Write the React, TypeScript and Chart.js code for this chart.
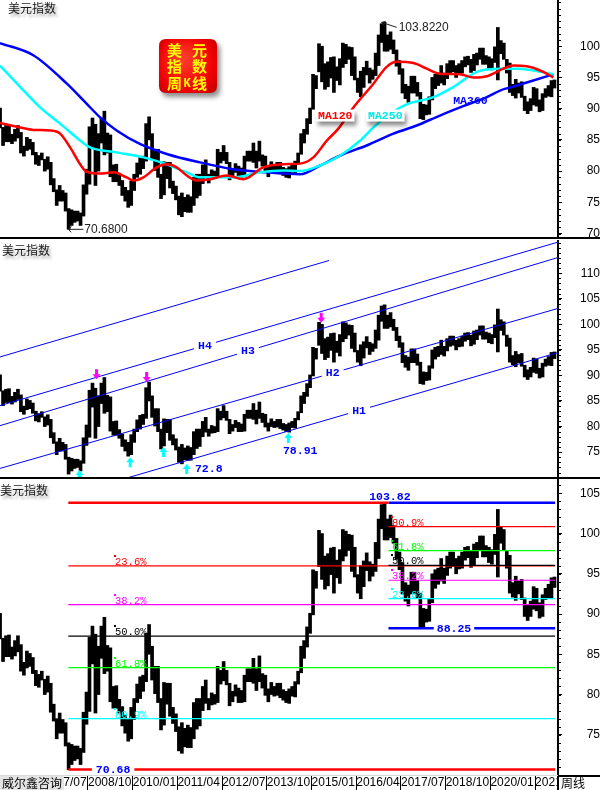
import React, { useEffect, useRef } from 'react';
import { Chart, registerables } from 'chart.js';

Chart.register(...registerables);

// ---------------- data ----------------
const START_YEAR = 2006;
const START_MONTH = 4; // first monthly bar: April 2006

// monthly high / low of the US dollar index (read from the weekly K-line)
const monthlyHigh: number[] = [
  90.1, 87.0, 87.3, 87.4, 85.9, 86.7, 87.3, 86.2, 84.0,
  85.4, 85.1, 84.6, 83.0, 82.5, 82.9, 81.9, 82.3, 81.4, 78.8, 77.0, 77.7,
  76.9, 76.5, 74.0, 73.8, 73.6, 73.6, 73.3, 77.8, 80.3, 87.1, 88.5, 87.5,
  86.0, 88.5, 89.6, 86.1, 85.8, 81.0, 81.1, 79.4, 78.5, 77.4, 76.9, 78.4,
  79.5, 81.3, 82.2, 82.4, 87.6, 88.7, 86.0, 83.5, 83.5, 79.5, 81.5, 81.4,
  81.4, 78.4, 77.6, 76.0, 76.5, 75.8, 76.2, 75.9, 79.0, 79.5, 79.5, 81.0,
  81.8, 79.5, 80.2, 80.0, 83.5, 83.0, 84.1, 83.0, 81.4, 80.4, 81.2, 80.8,
  80.5, 82.4, 83.2, 83.2, 84.5, 83.2, 84.8, 82.6, 82.4, 80.7, 81.5, 81.0,
  81.4, 81.4, 80.6, 80.4, 80.7, 81.0, 81.6, 82.9, 86.0, 86.7, 88.4, 90.1,
  95.5, 95.3, 100.4, 100.0, 97.2, 97.5, 98.2, 98.3, 96.7, 98.0, 100.5, 100.3,
  99.9, 99.8, 98.3, 94.9, 96.0, 96.6, 97.6, 96.5, 96.2, 98.9, 101.8, 103.6,
  103.82, 101.8, 102.3, 101.0, 99.4, 97.7, 96.4, 93.9, 93.6, 95.2, 95.2, 94.2,
  92.6, 90.7, 90.6, 91.9, 95.0, 95.5, 95.7, 96.9, 95.7, 97.2, 97.7, 97.7,
  96.9, 97.2, 97.7, 98.3, 98.4, 97.9, 98.7, 98.9, 99.7, 99.7, 98.5, 98.3,
  98.0, 99.9, 103.0, 100.9, 100.5, 97.9, 97.3, 93.9, 94.7, 94.1, 94.3, 92.0,
  91.1, 91.6, 93.4, 93.2, 91.4, 92.4, 93.2, 93.7, 94.5, 94.6,
];
const monthlyLow: number[] = [
  86.9, 84.1, 84.7, 84.7, 84.4, 84.8, 85.3, 82.9, 82.4,
  83.3, 83.5, 82.6, 81.1, 80.9, 81.8, 80.0, 80.3, 77.8, 76.7, 74.5, 75.2,
  75.2, 73.6, 70.68, 71.3, 71.8, 72.0, 71.3, 72.8, 76.3, 77.9, 83.8, 77.7,
  80.0, 84.5, 82.6, 82.9, 79.1, 78.3, 78.3, 77.7, 76.1, 75.2, 74.2, 74.5,
  76.9, 79.0, 79.5, 80.4, 81.6, 85.0, 81.8, 80.1, 79.0, 75.6, 76.2, 78.8,
  77.3, 76.4, 75.4, 73.0, 72.7, 73.5, 73.4, 73.4, 74.5, 75.7, 76.1, 78.0,
  78.9, 78.1, 78.7, 78.8, 79.0, 81.3, 81.7, 81.2, 78.6, 79.1, 79.8, 79.0,
  79.0, 79.1, 81.6, 81.6, 81.4, 80.5, 81.6, 80.8, 79.9, 79.1, 80.0, 79.8,
  79.9, 79.6, 79.3, 79.0, 78.9, 79.8, 79.7, 81.3, 82.7, 84.5, 85.9, 87.6,
  89.9, 93.2, 95.9, 94.3, 93.1, 93.5, 94.9, 92.6, 94.5, 93.8, 96.6, 97.2,
  97.9, 95.3, 94.6, 92.6, 91.9, 93.4, 95.4, 94.1, 94.7, 95.3, 96.9, 100.6,
  99.2, 99.2, 99.5, 98.8, 96.8, 95.5, 92.5, 91.6, 91.0, 92.5, 92.5, 92.0,
  88.4, 88.25, 89.0, 89.1, 91.4, 93.2, 93.7, 94.1, 93.8, 94.8, 95.7, 95.9,
  95.0, 95.6, 95.7, 96.7, 97.0, 95.8, 96.1, 97.0, 97.9, 97.1, 97.1, 96.4,
  96.2, 97.4, 94.6, 98.8, 97.9, 95.7, 92.6, 92.1, 91.7, 92.5, 91.8, 89.7,
  89.2, 89.7, 90.6, 90.4, 89.5, 89.7, 91.8, 92.0, 91.9, 93.3,
];

// moving averages
const ma120Years = [2006.29, 2006.76, 2007.22, 2007.69, 2007.97, 2008.25, 2008.53, 2008.71, 2009.09, 2009.46, 2009.83, 2010.02, 2010.30, 2010.67, 2010.95, 2011.23, 2011.51, 2011.79, 2012.16, 2012.63, 2013.09, 2013.65, 2014.21, 2014.68, 2015.05, 2015.43, 2015.75, 2016.17, 2016.73, 2017.10, 2017.38, 2017.85, 2018.22, 2018.59, 2019.15, 2019.53, 2019.90, 2020.36, 2020.64, 2021.02, 2021.48, 2021.76];
const ma120Values = [87.7, 87.1, 86.6, 86.5, 86.0, 83.8, 81.1, 79.9, 79.6, 79.8, 79.0, 78.5, 79.0, 80.6, 81.1, 80.6, 79.3, 78.5, 78.7, 79.3, 78.7, 80.6, 81.1, 81.2, 82.2, 84.9, 86.8, 90.2, 94.0, 96.7, 97.5, 97.3, 96.4, 95.6, 95.5, 95.0, 95.2, 96.4, 96.9, 96.8, 95.9, 95.0];
const ma250Years = [2006.29, 2006.85, 2007.41, 2007.97, 2008.53, 2008.81, 2009.55, 2010.30, 2010.95, 2011.51, 2011.88, 2012.81, 2013.56, 2014.21, 2014.68, 2015.24, 2015.80, 2016.36, 2016.73, 2017.20, 2017.66, 2018.41, 2018.97, 2019.62, 2020.27, 2020.74, 2021.20, 2021.76];
const ma250Values = [96.9, 93.5, 90.2, 87.6, 84.9, 83.8, 83.0, 82.2, 81.1, 79.8, 79.0, 79.0, 79.8, 80.1, 80.0, 80.9, 82.5, 84.9, 87.0, 89.2, 90.7, 91.85, 93.5, 95.9, 96.4, 96.4, 96.1, 95.5];
const ma360Years = [2006.29, 2007.22, 2008.16, 2008.71, 2009.09, 2009.55, 2010.20, 2010.95, 2011.88, 2012.81, 2013.75, 2014.68, 2015.24, 2015.80, 2016.54, 2017.29, 2017.94, 2018.59, 2019.24, 2019.90, 2020.27, 2020.74, 2021.20, 2021.76];
const ma360Values = [100.5, 98.55, 94.0, 90.8, 88.6, 86.5, 84.35, 82.75, 81.4, 80.3, 79.8, 79.5, 80.9, 82.5, 84.1, 86.0, 87.3, 88.9, 90.4, 91.85, 92.9, 93.7, 94.5, 95.5];

// channel lines (middle panel)
const channelNames = ['', 'H4', 'H3', 'H2', 'H1'];
const channelStartYear = [2006.29, 2006.29, 2006.29, 2006.29, 2009.79];
const channelStartValue = [93.62, 84.1, 80.17, 71.8, 69.83];
const channelEndYear = [2015.49, 2021.89, 2021.89, 2021.89, 2021.89];
const channelEndValue = [112.5, 116.1, 113.09, 103.12, 94.47];
const channelLabelYear = [0, 2012.02, 2013.22, 2015.59, 2016.33];

// turning-point arrows (middle panel)
const topArrowYears = [2008.99, 2010.39, 2015.27];
const topArrowValues = [89.27, 88.74, 100.33];
const bottomArrowYears = [2008.51, 2009.93, 2010.86, 2011.51, 2014.35];
const bottomArrowValues = [71.51, 74.0, 75.99, 72.69, 78.75];

// golden-section levels (bottom panel)
const swingHigh = 103.82;
const swingLow = 70.68;
const secondLow = 88.25;
const fibLeftLevels = [95.99, 91.16, 87.25, 83.34, 77.01];
const fibLeftLabels = ['23.6%', '38.2%', '50.0%', '61.8%', '80.9%'];
const fibLeftColors = ['#ff0000', '#ff00ff', '#000000', '#00ff00', '#00ffff'];
const fibRightLevels = [100.85, 97.87, 96.04, 94.2, 91.92];
const fibRightLabels = ['80.9%', '61.8%', '50.0%', '38.2%', '23.6%'];
const fibRightColors = ['#ff0000', '#00ff00', '#000000', '#ff00ff', '#00ffff'];
const FIB_LEFT = 2008.2;
const FIB_RIGHT = 2017.15;
const FIB_END = 2021.81;

// x axis
const X_MIN = 2006.29;
const X_MAX = 2021.89;
const xTickYears = [2007.5, 2008.75, 2010.0, 2011.25, 2012.5, 2013.75, 2015.0, 2016.25, 2017.5, 2018.75, 2020.0, 2021.25];
const xTickLabels = ['2007/07', '2008/10', '2010/01', '2011/04', '2012/07', '2013/10', '2015/01', '2016/04', '2017/07', '2018/10', '2020/01', '2021/04'];

const p1Labels = [70, 75, 80, 85, 90, 95, 100];
const p2Labels = [75, 80, 85, 90, 95, 100, 105, 110];
const p3Labels = [75, 80, 85, 90, 95, 100, 105];

// ---------------- helpers ----------------
const SANS = '"Liberation Sans", Arial, sans-serif';
const MONO = '"Liberation Mono", "DejaVu Sans Mono", monospace';
const CJK = '"Noto Sans CJK SC", sans-serif';

const monthX = monthlyHigh.map((_, i) => {
  const m = START_MONTH - 1 + i;
  return START_YEAR + Math.floor(m / 12) + ((m % 12) + 0.5) / 12;
});
const kData = monthX.map((x, i) => ({ x, y: [monthlyLow[i], monthlyHigh[i]] }));

const barDataset = () => ({
  type: 'bar',
  data: kData,
  backgroundColor: '#000',
  borderWidth: 0,
  barThickness: 3,
  order: 100,
});

const lineDs = (xs: number[], ys: number[], color: string, width: number, order: number, tension = 0) => ({
  type: 'line',
  data: xs.map((x, i) => ({ x, y: ys[i] })),
  borderColor: color,
  borderWidth: width,
  pointRadius: 0,
  fill: false,
  tension,
  cubicInterpolationMode: tension ? 'monotone' : 'default',
  order,
});

function yScale(min: number, max: number, labels: number[]) {
  return {
    type: 'linear',
    position: 'right',
    min,
    max,
    afterBuildTicks: (s: any) => {
      const t: any[] = [];
      for (let v = Math.ceil(min); v <= Math.floor(max); v++) t.push({ value: v });
      s.ticks = t;
    },
    afterFit: (s: any) => {
      s.width = 42;
      s.paddingTop = 0;
      s.paddingBottom = 0;
    },
    ticks: {
      autoSkip: false,
      crossAlign: 'far',
      padding: 16,
      color: '#000',
      font: { family: SANS, size: 12 },
      callback: (v: any) => (labels.includes(Number(v)) ? String(v) : ''),
    },
    grid: {
      drawOnChartArea: false,
      drawTicks: true,
      tickLength: 4,
      color: (c: any) => (c.tick && labels.includes(c.tick.value) ? '#000' : 'rgba(0,0,0,0)'),
    },
    border: { display: true, color: '#000', width: 2 },
  };
}

const hiddenX = {
  type: 'linear',
  min: X_MIN,
  max: X_MAX,
  offset: false,
  display: false,
};

function axisDots(chart: any) {
  const { ctx, chartArea } = chart;
  const y = chart.scales.y;
  ctx.save();
  ctx.fillStyle = '#000';
  for (let v = Math.ceil(y.min); v <= Math.floor(y.max); v++) {
    const p = Math.round(y.getPixelForValue(v));
    ctx.fillRect(chartArea.right + 1, p, 2, 1);
  }
  ctx.restore();
}

function drawTitle(ctx: CanvasRenderingContext2D, x: number, y: number) {
  ctx.save();
  ctx.font = `12px ${CJK}`;
  ctx.textBaseline = 'top';
  ctx.shadowColor = 'rgba(0,0,0,0.35)';
  ctx.shadowBlur = 3;
  ctx.shadowOffsetX = 2;
  ctx.shadowOffsetY = 3;
  ctx.fillStyle = '#1a1a1a';
  ctx.fillText('美元指数', x, y);
  ctx.restore();
}

function boxText(ctx: CanvasRenderingContext2D, text: string, x: number, yMid: number, color: string, font: string, shadow: boolean, padX = 2) {
  ctx.save();
  ctx.font = font;
  const w = ctx.measureText(text).width;
  if (shadow) {
    ctx.shadowColor = 'rgba(0,0,0,0.45)';
    ctx.shadowBlur = 4;
    ctx.shadowOffsetX = 2;
    ctx.shadowOffsetY = 4;
  }
  ctx.fillStyle = '#fff';
  ctx.fillRect(x - padX, yMid - 6, w + padX * 2, 12);
  ctx.restore();
  ctx.save();
  ctx.font = font;
  ctx.fillStyle = color;
  ctx.textBaseline = 'middle';
  ctx.fillText(text, x, yMid + 0.5);
  ctx.restore();
}

function drawArrow(ctx: CanvasRenderingContext2D, cx: number, tipY: number, down: boolean, color: string) {
  const d = down ? -1 : 1; // direction from tip toward tail
  ctx.save();
  ctx.fillStyle = color;
  ctx.beginPath();
  ctx.moveTo(cx, tipY);
  ctx.lineTo(cx - 4, tipY + d * 5);
  ctx.lineTo(cx - 1.5, tipY + d * 5);
  ctx.lineTo(cx - 1.5, tipY + d * 10);
  ctx.lineTo(cx + 1.5, tipY + d * 10);
  ctx.lineTo(cx + 1.5, tipY + d * 5);
  ctx.lineTo(cx + 4, tipY + d * 5);
  ctx.closePath();
  ctx.fill();
  ctx.restore();
}

function roundRectPath(ctx: CanvasRenderingContext2D, x: number, y: number, w: number, h: number, r: number) {
  ctx.beginPath();
  ctx.moveTo(x + r, y);
  ctx.lineTo(x + w - r, y);
  ctx.quadraticCurveTo(x + w, y, x + w, y + r);
  ctx.lineTo(x + w, y + h - r);
  ctx.quadraticCurveTo(x + w, y + h, x + w - r, y + h);
  ctx.lineTo(x + r, y + h);
  ctx.quadraticCurveTo(x, y + h, x, y + h - r);
  ctx.lineTo(x, y + r);
  ctx.quadraticCurveTo(x, y, x + r, y);
  ctx.closePath();
}

function drawBadge(ctx: CanvasRenderingContext2D) {
  const x = 159, y = 39, w = 58, h = 54;
  ctx.save();
  ctx.shadowColor = 'rgba(0,0,0,0.45)';
  ctx.shadowBlur = 5;
  ctx.shadowOffsetX = 3;
  ctx.shadowOffsetY = 4;
  const g = ctx.createRadialGradient(x + w * 0.4, y + h * 0.35, 4, x + w / 2, y + h / 2, w * 0.75);
  g.addColorStop(0, '#ff3a2a');
  g.addColorStop(0.6, '#f00000');
  g.addColorStop(1, '#b00000');
  ctx.fillStyle = g;
  roundRectPath(ctx, x, y, w, h, 7);
  ctx.fill();
  ctx.restore();
  ctx.save();
  ctx.fillStyle = '#ffff00';
  ctx.font = `bold 15px ${CJK}`;
  ctx.textAlign = 'center';
  ctx.textBaseline = 'middle';
  ctx.fillText('美', 174.5, 50);
  ctx.fillText('元', 199.5, 50);
  ctx.fillText('指', 174.5, 66.5);
  ctx.fillText('数', 199.5, 66.5);
  ctx.fillText('周', 174.5, 83);
  ctx.fillText('线', 199.5, 83);
  ctx.font = `bold 12px ${MONO}`;
  ctx.fillText('K', 187, 84);
  ctx.restore();
}

function separator(ctx: CanvasRenderingContext2D, y: number) {
  ctx.save();
  ctx.fillStyle = '#000';
  ctx.fillRect(0, y, 600, 2);
  ctx.restore();
}

// ---------------- panel plugins ----------------
const panel1Plugin = {
  id: 'panel1',
  afterDatasetsDraw(chart: any) {
    const { ctx } = chart;
    const x = chart.scales.x;
    const y = chart.scales.y;
    const bold = `bold 11.5px ${MONO}`;
    boxText(ctx, 'MA120', x.getPixelForValue(2015.18), y.getPixelForValue(88.9), '#ff0000', bold, true);
    boxText(ctx, 'MA250', x.getPixelForValue(2016.58), y.getPixelForValue(88.9), '#00e8e8', bold, true);
    ctx.save();
    ctx.font = bold;
    ctx.fillStyle = '#0000ff';
    ctx.textBaseline = 'middle';
    ctx.fillText('MA360', x.getPixelForValue(2018.96), y.getPixelForValue(91.16));
    ctx.restore();

    // high / low annotations
    ctx.save();
    ctx.strokeStyle = '#222';
    ctx.lineWidth = 1;
    ctx.fillStyle = '#222';
    ctx.font = `12px ${SANS}`;
    ctx.textBaseline = 'middle';
    const hx = x.getPixelForValue(2016.96), hy = y.getPixelForValue(swingHigh);
    ctx.beginPath();
    ctx.moveTo(hx, hy);
    ctx.lineTo(hx + 15, hy + 5);
    ctx.moveTo(hx, hy);
    ctx.lineTo(hx + 4, hy - 1);
    ctx.moveTo(hx, hy);
    ctx.lineTo(hx + 2, hy + 3);
    ctx.stroke();
    ctx.fillText('103.8220', hx + 17, hy + 5);
    const lx = x.getPixelForValue(FIB_LEFT), ly = y.getPixelForValue(swingLow);
    ctx.beginPath();
    ctx.moveTo(lx, ly);
    ctx.lineTo(lx + 15, ly);
    ctx.moveTo(lx, ly);
    ctx.lineTo(lx + 3, ly - 3);
    ctx.moveTo(lx, ly);
    ctx.lineTo(lx + 3, ly + 3);
    ctx.stroke();
    ctx.fillText('70.6800', lx + 16, ly);
    ctx.restore();

    drawBadge(ctx);
    drawTitle(ctx, 8, 2);
  },
  afterDraw(chart: any) {
    axisDots(chart);
    separator(chart.ctx, 237);
  },
};

const panel2Plugin = {
  id: 'panel2',
  afterDatasetsDraw(chart: any) {
    const { ctx } = chart;
    const x = chart.scales.x;
    const y = chart.scales.y;
    const bold = `bold 11.5px ${MONO}`;
    channelNames.forEach((name, i) => {
      if (!name) return;
      const t = (channelLabelYear[i] - channelStartYear[i]) / (channelEndYear[i] - channelStartYear[i]);
      const v = channelStartValue[i] + t * (channelEndValue[i] - channelStartValue[i]);
      ctx.save();
      ctx.font = bold;
      const w = ctx.measureText(name).width;
      ctx.restore();
      boxText(ctx, name, x.getPixelForValue(channelLabelYear[i]) - w / 2, y.getPixelForValue(v), '#0000ff', bold, false, 4);
    });
    topArrowYears.forEach((yr, i) => drawArrow(ctx, x.getPixelForValue(yr), y.getPixelForValue(topArrowValues[i]), true, '#ff00ff'));
    bottomArrowYears.forEach((yr, i) => drawArrow(ctx, x.getPixelForValue(yr), y.getPixelForValue(bottomArrowValues[i]), false, '#00ffff'));
    ctx.save();
    ctx.font = bold;
    ctx.fillStyle = '#0000ff';
    ctx.textBaseline = 'middle';
    ctx.fillText('72.8', x.getPixelForValue(2011.74), y.getPixelForValue(71.7));
    ctx.fillText('78.91', x.getPixelForValue(2014.2), y.getPixelForValue(75.16));
    ctx.restore();
    drawTitle(ctx, 2, 4);
  },
  afterDraw(chart: any) {
    axisDots(chart);
    separator(chart.ctx, 237);
  },
};

const panel3Plugin = {
  id: 'panel3',
  afterDatasetsDraw(chart: any) {
    const { ctx } = chart;
    const x = chart.scales.x;
    const y = chart.scales.y;
    const small = `10.5px ${MONO}`;
    const bold = `bold 11.5px ${MONO}`;
    const drawFibLabel = (yr: number, level: number, text: string, color: string) => {
      const px = Math.round(x.getPixelForValue(yr));
      const py = y.getPixelForValue(level);
      ctx.save();
      ctx.fillStyle = color;
      ctx.font = small;
      ctx.textBaseline = 'alphabetic';
      ctx.fillText(text, px, py - 1);
      ctx.fillRect(px - 1, Math.round(py - 11), 2, 2);
      ctx.restore();
    };
    fibLeftLevels.forEach((lv, i) => drawFibLabel(2009.51, lv, fibLeftLabels[i], fibLeftColors[i]));
    fibRightLevels.forEach((lv, i) => drawFibLabel(2017.26, lv, fibRightLabels[i], fibRightColors[i]));

    boxText(ctx, '70.68', x.getPixelForValue(2008.97), y.getPixelForValue(swingLow), '#0000ff', bold, false, 4);
    boxText(ctx, '88.25', x.getPixelForValue(2018.5), y.getPixelForValue(secondLow), '#0000ff', bold, false, 3);
    ctx.save();
    ctx.font = bold;
    ctx.fillStyle = '#0000ff';
    ctx.textBaseline = 'alphabetic';
    ctx.fillText('103.82', x.getPixelForValue(2016.61), y.getPixelForValue(swingHigh) - 3);
    ctx.restore();
    drawTitle(ctx, 0, 5);
  },
  afterDraw(chart: any) {
    const { ctx, chartArea } = chart;
    axisDots(chart);
    const b = chartArea.bottom;
    ctx.save();
    // right part of the label row
    ctx.fillStyle = '#fff';
    ctx.fillRect(chartArea.right, b + 1, 600 - chartArea.right, 311 - b);
    ctx.fillStyle = '#000';
    ctx.fillRect(chartArea.right - 1, b, 2, 311 - b);
    ctx.fillRect(chartArea.right, b, 600 - chartArea.right, 2);
    ctx.fillStyle = '#d8d8d8';
    ctx.fillRect(0, b, chartArea.right, 1);
    ctx.font = `12px ${CJK}`;
    ctx.fillStyle = '#000';
    ctx.textBaseline = 'middle';
    ctx.fillText('周线', chartArea.right + 3, b + 8);
    // company tag
    ctx.fillStyle = '#e4e4e4';
    ctx.fillRect(0, b + 1, 64, 311 - b);
    ctx.fillStyle = '#000';
    ctx.fillText('威尔鑫咨询', 2, b + 8);
    ctx.restore();
  },
};

// ---------------- component ----------------
export default function App() {
  const c1 = useRef<HTMLCanvasElement>(null);
  const c2 = useRef<HTMLCanvasElement>(null);
  const c3 = useRef<HTMLCanvasElement>(null);

  useEffect(() => {
    document.body.style.margin = '0';
    const base = {
      animation: false,
      responsive: false,
      events: [],
      layout: { padding: 0 },
      plugins: { legend: { display: false }, tooltip: { enabled: false } },
    };

    const chart1 = new Chart(c1.current!, {
      type: 'bar',
      data: {
        datasets: [
          lineDs(ma360Years, ma360Values, '#0000ff', 2.5, 3, 0.4),
          lineDs(ma250Years, ma250Values, '#00ffff', 2.5, 2, 0.4),
          lineDs(ma120Years, ma120Values, '#ff0000', 2.5, 1, 0.4),
          barDataset(),
        ] as any,
      },
      options: {
        ...base,
        scales: { x: hiddenX, y: yScale(69.13, 107.4, p1Labels) },
      } as any,
      plugins: [panel1Plugin],
    });

    const channelDs = channelNames.map((_, i) =>
      lineDs([channelStartYear[i], channelEndYear[i]], [channelStartValue[i], channelEndValue[i]], '#0000ff', 1, 5));
    const chart2 = new Chart(c2.current!, {
      type: 'bar',
      data: { datasets: [...channelDs, barDataset()] as any },
      options: {
        ...base,
        scales: { x: hiddenX, y: yScale(69.73, 116.51, p2Labels) },
      } as any,
      plugins: [panel2Plugin],
    });

    const leftDs = fibLeftLevels.map((lv, i) => lineDs([FIB_LEFT, FIB_END], [lv, lv], fibLeftColors[i], 1.2, 30));
    const rightDs = fibRightLevels.map((lv, i) => lineDs([FIB_RIGHT, FIB_END], [lv, lv], fibRightColors[i], 1.2, 20));
    const thickDs = [
      lineDs([FIB_LEFT, FIB_RIGHT], [swingHigh, swingHigh], '#ff0000', 2.5, 10),
      lineDs([FIB_RIGHT, FIB_END], [swingHigh, swingHigh], '#0000ff', 2.5, 10),
      lineDs([FIB_LEFT, FIB_END], [swingLow, swingLow], '#ff0000', 2.5, 10),
      lineDs([FIB_RIGHT, FIB_END], [secondLow, secondLow], '#0000ff', 2.5, 10),
    ];
    const chart3 = new Chart(c3.current!, {
      type: 'bar',
      data: { datasets: [...thickDs, ...rightDs, ...leftDs, barDataset()] as any },
      options: {
        ...base,
        scales: {
          x: {
            type: 'linear',
            min: X_MIN,
            max: X_MAX,
            offset: false,
            afterBuildTicks: (s: any) => {
              s.ticks = xTickYears.map((v) => ({ value: v }));
            },
            afterFit: (s: any) => {
              s.height = 15;
              s.paddingLeft = 0;
              s.paddingRight = 0;
            },
            ticks: {
              autoSkip: false,
              maxRotation: 0,
              minRotation: 0,
              align: 'start',
              padding: -15,
              color: '#000',
              font: { family: SANS, size: 12 },
              callback: (_v: any, i: number) => xTickLabels[i],
            },
            grid: { drawOnChartArea: false, drawTicks: true, tickLength: 15, color: '#000', offset: false },
            border: { display: false },
          },
          y: yScale(70.0, 106.78, p3Labels),
        },
      } as any,
      plugins: [panel3Plugin],
    });

    return () => {
      chart1.destroy();
      chart2.destroy();
      chart3.destroy();
    };
  }, []);

  const cs: React.CSSProperties = { position: 'absolute', left: 0, display: 'block' };
  return (
    <div style={{ position: 'relative', width: 600, height: 790, background: '#fff', overflow: 'hidden' }}>
      <canvas ref={c1} width={600} height={239} style={{ ...cs, top: 0 }} />
      <canvas ref={c2} width={600} height={239} style={{ ...cs, top: 240 }} />
      <canvas ref={c3} width={600} height={311} style={{ ...cs, top: 479 }} />
    </div>
  );
}
